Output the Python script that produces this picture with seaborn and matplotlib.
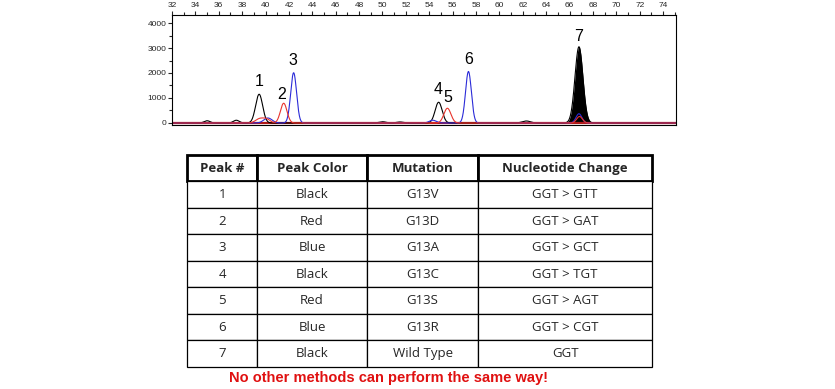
import numpy as np
import pandas as pd
import matplotlib
matplotlib.use("Agg")
import matplotlib.pyplot as plt
import seaborn as sns
from matplotlib.ticker import MultipleLocator

# ---------------- data ----------------
# peaks: (position, height, width)
black_pos = [35.0, 37.5, 39.45, 50.0, 51.5, 54.8, 62.3, 66.8]
black_hgt = [90, 110, 1150, 50, 40, 830, 80, 3050]
black_wid = [0.25, 0.25, 0.30, 0.3, 0.3, 0.30, 0.35, 0.34]

red_pos = [39.5, 40.1, 41.55, 55.55, 66.85]
red_hgt = [170, 140, 790, 590, 260]
red_wid = [0.35, 0.3, 0.28, 0.30, 0.25]

blue_pos = [40.2, 42.4, 54.3, 57.35, 66.8]
blue_hgt = [200, 2010, 110, 2060, 370]
blue_wid = [0.35, 0.25, 0.3, 0.25, 0.25]

peak_ids = ["1", "2", "3", "4", "5", "6", "7"]
label_x = [39.45, 41.4, 42.35, 54.75, 55.6, 57.4, 66.8]
label_y = [1640, 1120, 2520, 1320, 1000, 2560, 3480]

x_ticks = list(range(32, 76, 2))
y_ticks = [0, 1000, 2000, 3000, 4000]

col_labels = ["Peak #", "Peak Color", "Mutation", "Nucleotide Change"]
peak_num = ["1", "2", "3", "4", "5", "6", "7"]
peak_color = ["Black", "Red", "Blue", "Black", "Red", "Blue", "Black"]
mutation = ["G13V", "G13D", "G13A", "G13C", "G13S", "G13R", "Wild Type"]
nucleotide = ["GGT > GTT", "GGT > GAT", "GGT > GCT", "GGT > TGT",
              "GGT > AGT", "GGT > CGT", "GGT"]

footer = "No other methods can perform the same way!"

# ---------------- build traces ----------------
xs = np.linspace(32, 75.1, 3000)


def trace(pos, hgt, wid):
    y = np.zeros_like(xs)
    for p, h, w in zip(pos, hgt, wid):
        y += h * np.exp(-0.5 * ((xs - p) / w) ** 2)
    return y


df = pd.DataFrame({
    "x": np.concatenate([xs, xs, xs]),
    "y": np.concatenate([trace(black_pos, black_hgt, black_wid),
                         trace(red_pos, red_hgt, red_wid),
                         trace(blue_pos, blue_hgt, blue_wid)]),
    "dye": ["black"] * len(xs) + ["red"] * len(xs) + ["blue"] * len(xs),
})

sns.set_style("white")
plt.rcParams["font.family"] = ["Liberation Sans", "DejaVu Sans"]

fig = plt.figure(figsize=(8.35, 3.89), dpi=100)
ax = fig.add_axes([0.206, 0.6787, 0.6036, 0.2827])

black_df = df[df.dye == "black"]
mask = (black_df.x > 65.3) & (black_df.x < 68.3)
ax.fill_between(black_df.x[mask], 0, black_df.y[mask], color="black", lw=0)
sns.lineplot(data=df, x="x", y="y", hue="dye",
             palette={"black": "black", "red": "#e8342c", "blue": "#2b2bd8"},
             hue_order=["black", "blue", "red"],
             linewidth=0.8, legend=False, ax=ax, estimator=None, sort=False)
ax.axhline(0, color="#b01818", lw=1.6, zorder=1.5)

for t, lx, ly in zip(peak_ids, label_x, label_y):
    ax.text(lx, ly, t, ha="center", va="center", fontsize=11.5, color="black")

ax.set_xlim(32, 75.1)
ax.set_ylim(-80, 4320)
ax.set_xticks(x_ticks)
ax.set_yticks(y_ticks)
ax.xaxis.set_minor_locator(MultipleLocator(1))
ax.yaxis.set_minor_locator(MultipleLocator(500))
ax.xaxis.tick_top()
ax.tick_params(axis="x", which="both", direction="out", top=True, bottom=False,
               labelsize=6, length=3, width=0.8, pad=1)
ax.tick_params(axis="x", which="minor", length=2)
ax.tick_params(axis="y", which="both", direction="out", left=True,
               labelsize=6, length=3, width=0.8, pad=1)
ax.tick_params(axis="y", which="minor", length=2)
ax.set_xlabel("")
ax.set_ylabel("")
for s in ax.spines.values():
    s.set_color("black")
    s.set_linewidth(0.8)

# ---------------- table ----------------
tax = fig.add_axes([0.224, 0.0566, 0.557, 0.545])
tax.axis("off")
cell_text = [list(r) for r in zip(peak_num, peak_color, mutation, nucleotide)]
tbl = tax.table(cellText=cell_text, colLabels=col_labels,
                colWidths=[70, 110, 111, 174], cellLoc="center",
                bbox=[0, 0, 1, 1])
tbl.auto_set_font_size(False)
for (r, c), cell in tbl.get_celld().items():
    cell.get_text().set_fontsize(9.5)
    cell.get_text().set_fontfamily(["Open Sans", "DejaVu Sans"])
    cell.set_edgecolor("black")
    cell.set_linewidth(0.9)
    if r == 0:
        cell.get_text().set_fontweight("bold")
        cell.set_linewidth(2.0)

fig.text(0.465, 0.028, footer, ha="center", va="center", color="#e01010",
         fontsize=10.5, fontweight="bold", family=["Liberation Sans", "DejaVu Sans"])

fig.savefig("out.png", dpi=100)
